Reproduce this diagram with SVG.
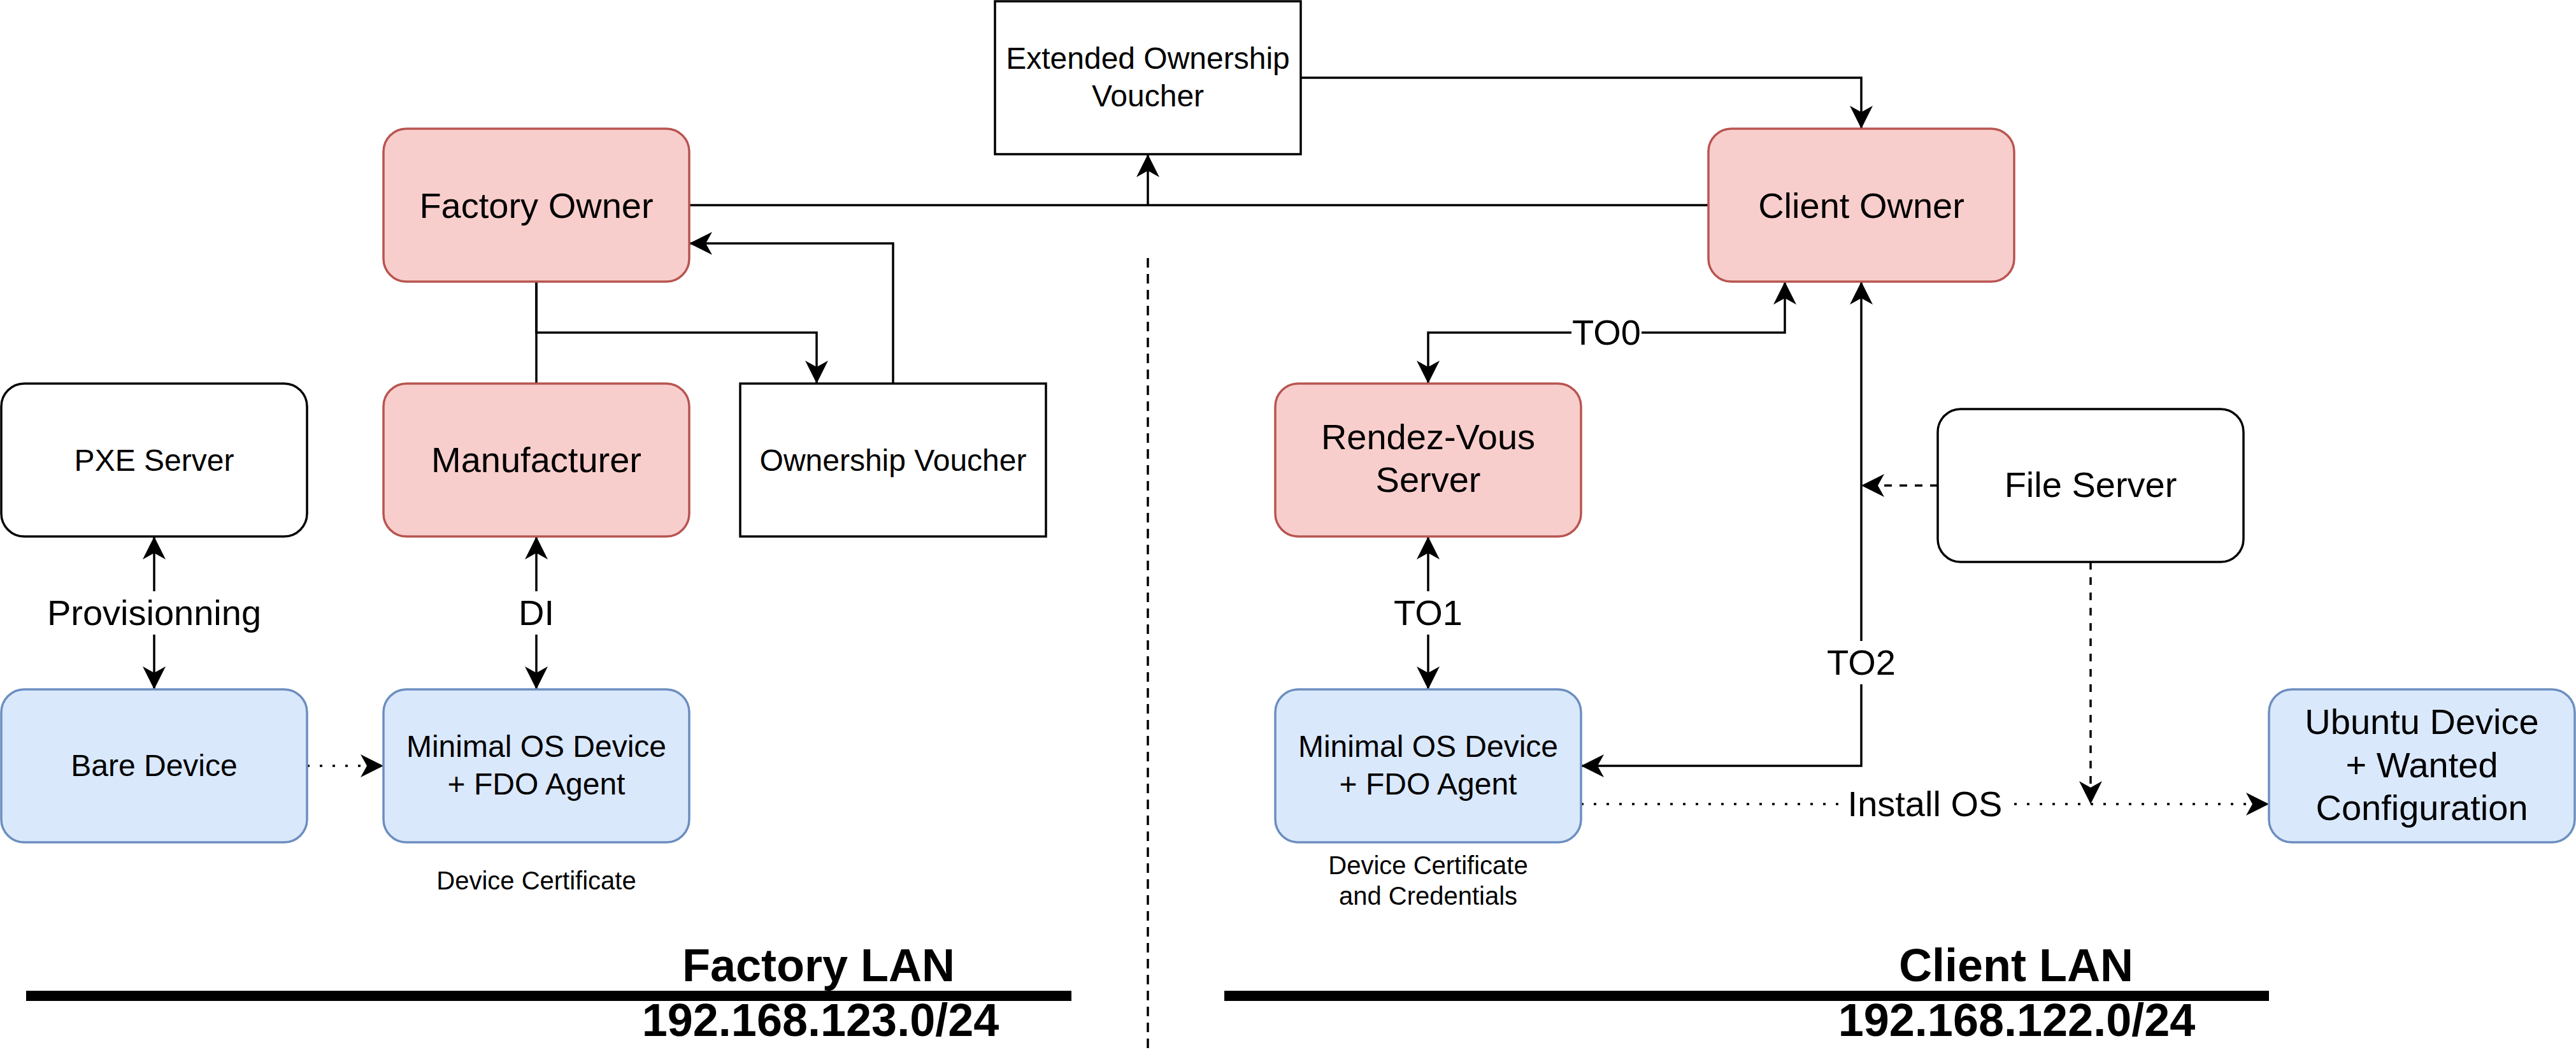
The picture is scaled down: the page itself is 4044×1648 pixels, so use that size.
<svg xmlns="http://www.w3.org/2000/svg" width="4044" height="1648" viewBox="0 0 4044 1648">
<style>
text{font-family:"Liberation Sans",Arial,Helvetica,sans-serif;fill:#000;text-anchor:middle}
.f56{font-size:56px}.f48{font-size:48px}.f40{font-size:40px}
.lan{font-size:72px;font-weight:bold}
.red{fill:#f8cecc;stroke:#b85450;stroke-width:3.5}
.blue{fill:#dae8fc;stroke:#6c8ebf;stroke-width:3.5}
.plain{fill:#fff;stroke:#000;stroke-width:3.5}
.ln{fill:none;stroke:#000;stroke-width:3.5}
.dot{stroke-dasharray:4 16}
.dash{stroke-dasharray:12 12}
.lbg{fill:#fff;stroke:none}
</style>
<defs>
<marker id="ar" markerUnits="userSpaceOnUse" markerWidth="40" markerHeight="40" refX="36" refY="18" orient="auto-start-reverse" overflow="visible">
<path d="M36,18 L0,0 L10,18 L0,36 Z" fill="#000" stroke="none"/>
</marker>
</defs>
<g id="connectors">
<path class="ln" d="M1082,322 H2682"/>
<path class="ln" d="M1802,322 V242" marker-end="url(#ar)"/>
<path class="ln" d="M2042,122 H2922 V202" marker-end="url(#ar)"/>
<path class="ln" d="M842,442 V602"/>
<path class="ln" d="M842,442 V522 H1282 V602" marker-end="url(#ar)"/>
<path class="ln" d="M1402,602 V382 H1082" marker-end="url(#ar)"/>
<path class="ln" d="M242,842 V1082" marker-start="url(#ar)" marker-end="url(#ar)"/>
<path class="ln" d="M842,842 V1082" marker-start="url(#ar)" marker-end="url(#ar)"/>
<path class="ln dot" d="M482,1202 H602" marker-end="url(#ar)"/>
<path class="ln" d="M2802,442 V522 H2242 V602" marker-start="url(#ar)" marker-end="url(#ar)"/>
<path class="ln" d="M2242,842 V1082" marker-start="url(#ar)" marker-end="url(#ar)"/>
<path class="ln" d="M2922,442 V1202 H2482" marker-start="url(#ar)" marker-end="url(#ar)"/>
<path class="ln dash" d="M3042,762 H2922" marker-end="url(#ar)"/>
<path class="ln dash" d="M3282,882 V1262" marker-end="url(#ar)"/>
<path class="ln dot" d="M2482,1262 H3562" marker-end="url(#ar)"/>
<path class="ln" d="M1802,405 V1648" stroke-dasharray="15 10"/>
<rect class="lbg" x="74" y="928" width="336" height="68"/>
<text class="f56" x="242" y="981">Provisionning</text>
<rect class="lbg" x="814" y="928" width="56" height="68"/>
<text class="f56" x="842" y="981">DI</text>
<rect class="lbg" x="2187" y="928" width="110" height="68"/>
<text class="f56" x="2242" y="981">TO1</text>
<rect class="lbg" x="2467" y="488" width="110" height="68"/>
<text class="f56" x="2522" y="541">TO0</text>
<rect class="lbg" x="2867" y="1006" width="110" height="68"/>
<text class="f56" x="2922" y="1059">TO2</text>
<rect class="lbg" x="2898" y="1228" width="248" height="68"/>
<text class="f56" x="3022" y="1281">Install OS</text>
</g>
<g id="eov"><rect class="plain" x="1562" y="2" width="480" height="240"/><text class="f48" x="1802" y="108">Extended Ownership</text><text class="f48" x="1802" y="167">Voucher</text></g>
<g id="factory-owner"><rect class="red" x="602" y="202" width="480" height="240" rx="36"/><text class="f56" x="842" y="342">Factory Owner</text></g>
<g id="client-owner"><rect class="red" x="2682" y="202" width="480" height="240" rx="36"/><text class="f56" x="2922" y="342">Client Owner</text></g>
<g id="pxe-server"><rect class="plain" x="2" y="602" width="480" height="240" rx="36"/><text class="f48" x="242" y="739">PXE Server</text></g>
<g id="manufacturer"><rect class="red" x="602" y="602" width="480" height="240" rx="36"/><text class="f56" x="842" y="741">Manufacturer</text></g>
<g id="ownership-voucher"><rect class="plain" x="1162" y="602" width="480" height="240"/><text class="f48" x="1402" y="739">Ownership Voucher</text></g>
<g id="bare-device"><rect class="blue" x="2" y="1082" width="480" height="240" rx="36"/><text class="f48" x="242" y="1218">Bare Device</text></g>
<g id="minimal-os-factory"><rect class="blue" x="602" y="1082" width="480" height="240" rx="36"/><text class="f48" x="842" y="1188">Minimal OS Device</text><text class="f48" x="842" y="1247">+ FDO Agent</text></g>
<g id="device-cert-factory"><text class="f40" x="842" y="1396">Device Certificate</text></g>
<g id="rendez-vous"><rect class="red" x="2002" y="602" width="480" height="240" rx="36"/><text class="f56" x="2242" y="705">Rendez-Vous</text><text class="f56" x="2242" y="772">Server</text></g>
<g id="file-server"><rect class="plain" x="3042" y="642" width="480" height="240" rx="36"/><text class="f56" x="3282" y="780">File Server</text></g>
<g id="minimal-os-client"><rect class="blue" x="2002" y="1082" width="480" height="240" rx="36"/><text class="f48" x="2242" y="1188">Minimal OS Device</text><text class="f48" x="2242" y="1247">+ FDO Agent</text></g>
<g id="device-cert-client"><text class="f40" x="2242" y="1372">Device Certificate</text><text class="f40" x="2242" y="1420">and Credentials</text></g>
<g id="ubuntu-device"><rect class="blue" x="3562" y="1082" width="480" height="240" rx="36"/><text class="f56" x="3802" y="1152">Ubuntu Device</text><text class="f56" x="3802" y="1220">+ Wanted</text><text class="f56" x="3802" y="1287">Configuration</text></g>
<g id="factory-lan"><rect x="41" y="1555" width="1641" height="16" fill="#000"/><text class="lan" x="1285" y="1540">Factory LAN</text><text class="lan" x="1288" y="1626">192.168.123.0/24</text></g>
<g id="client-lan"><rect x="1922" y="1555" width="1640" height="16" fill="#000"/><text class="lan" x="3165" y="1540">Client LAN</text><text class="lan" x="3166" y="1626">192.168.122.0/24</text></g>
</svg>
